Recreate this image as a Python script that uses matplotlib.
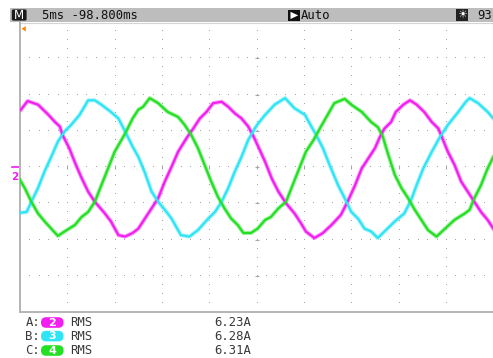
import matplotlib
matplotlib.use("Agg")
import matplotlib.pyplot as plt
from matplotlib.patches import FancyBboxPatch, Rectangle, Polygon
import numpy as np

# ---- scope settings ----
TIME_PER_DIV = 5.0      # ms per division
AMPS_PER_DIV = 5.0      # A per division
N_XDIV, N_YDIV = 10, 8

header_timebase = "5ms -98.800ms"
header_trigger = "Auto"
header_brightness = "93"

row_labels = ["A:", "B:", "C:"]
channel_ids = ["2", "3", "4"]
channel_colors = ["#f21ef2", "#2fe5f5", "#24e024"]
meas_kind = "RMS"
rms_values = [6.23, 6.28, 6.31]

# ---- captured traces: time (ms) / current (A) ----
t_ch2 = [0.1, 0.8, 1.9, 3.0, 3.7, 4.2, 4.5, 5.2, 5.9, 6.5, 7.2, 7.9, 8.9, 9.6, 10.4,
         11.1, 11.9, 12.5, 13.2, 13.9, 14.6, 15.3, 16.0, 16.7, 17.6, 18.3, 19.0, 19.7,
         20.4, 21.3, 22.0, 22.7, 23.4, 24.1, 24.6, 25.1, 25.9, 26.6, 27.3, 28.1, 29.0,
         29.7, 30.2, 31.1, 32.0, 32.9, 33.9, 34.6, 35.4, 36.1, 36.8, 37.5, 38.0, 38.5,
         39.2, 39.7, 40.5, 41.2, 41.9, 42.7, 43.5, 44.2, 44.7, 45.2, 45.9, 46.6, 47.3,
         48.0, 48.7, 49.4, 50.0]
i_ch2 = [7.9, 9.1, 8.6, 7.2, 6.2, 5.6, 4.4, 2.6, 0.3, -1.5, -3.4, -4.8, -6.3, -7.5, -9.4,
         -9.6, -9.1, -8.5, -7.1, -5.7, -4.3, -2.0, 0.0, 2.1, 4.0, 5.3, 6.7, 7.6,
         8.8, 9.0, 8.3, 7.4, 6.7, 5.6, 4.4, 3.0, 0.7, -1.6, -3.4, -5.0, -6.4,
         -7.8, -8.9, -9.8, -9.1, -8.0, -6.6, -4.8, -2.5, -0.2, 1.2, 2.6, 4.1, 5.3,
         6.2, 7.6, 8.6, 9.2, 8.6, 7.6, 6.2, 5.3, 3.7, 2.1, 0.3, -2.0, -3.4,
         -4.8, -6.2, -7.3, -8.5]

t_ch3 = [0.1, 0.7, 1.2, 1.9, 2.6, 3.3, 4.0, 4.7, 5.4, 6.3, 7.2, 7.9, 8.6, 9.6, 10.4,
         11.1, 11.9, 12.5, 13.2, 13.9, 14.6, 15.3, 16.0, 17.0, 17.9, 18.8, 19.9, 20.6,
         21.3, 22.0, 22.7, 23.4, 24.1, 24.8, 25.1, 25.9, 26.9, 28.0, 29.0, 30.1, 30.6,
         31.3, 32.0, 32.7, 33.6, 34.3, 35.0, 35.7, 36.4, 37.1, 37.8, 38.5, 39.6, 40.6,
         41.3, 41.9, 42.6, 43.5, 44.3, 45.2, 46.3, 47.1, 47.5, 48.4, 49.4, 50.0]
i_ch3 = [-6.3, -6.2, -4.8, -2.9, -0.6, 1.4, 3.5, 4.9, 5.8, 7.2, 9.2, 9.2, 8.6, 7.6, 6.7,
         4.9, 2.8, 1.4, -0.8, -3.4, -4.8, -5.9, -7.1, -9.4, -9.6, -8.7, -7.1, -6.2,
         -4.8, -2.9, -0.6, 1.4, 3.7, 5.3, 5.9, 7.2, 8.6, 9.5, 8.1, 7.2, 6.0,
         4.4, 2.6, 0.3, -2.5, -4.3, -6.2, -7.1, -8.5, -8.9, -9.8, -8.9, -7.5, -6.4,
         -4.6, -2.5, -0.2, 2.1, 4.0, 5.8, 7.6, 9.0, 9.5, 8.8, 7.6, 6.7]

t_ch4 = [0.0, 0.5, 1.2, 1.9, 2.6, 3.3, 4.0, 4.7, 5.8, 6.5, 7.2, 7.9, 8.6, 9.3, 10.0,
         11.1, 11.9, 12.5, 13.0, 13.7, 14.6, 15.6, 16.7, 17.4, 18.1, 18.8, 19.5, 20.2,
         20.9, 21.6, 22.3, 23.0, 23.6, 24.4, 25.1, 25.9, 26.5, 27.3, 28.1, 28.8, 29.5,
         30.2, 31.0, 31.8, 32.5, 33.2, 34.3, 35.0, 36.1, 37.1, 37.8, 38.3, 38.9, 39.6,
         40.3, 41.0, 41.7, 42.4, 43.1, 44.0, 44.9, 45.9, 47.0, 47.5, 48.0, 48.7, 49.4,
         50.0]
i_ch4 = [-1.8, -2.9, -4.8, -6.4, -7.5, -8.5, -9.5, -8.9, -8.0, -6.9, -6.2, -4.8, -2.5, -0.2, 2.1,
         4.6, 6.7, 7.9, 8.3, 9.5, 8.8, 7.6, 6.9, 5.8, 4.4, 2.6, 0.3, -2.0,
         -4.1, -5.7, -7.1, -8.0, -9.1, -9.1, -8.5, -7.3, -6.9, -5.7, -4.8, -2.5, -0.2,
         2.1, 3.7, 5.6, 7.2, 8.8, 9.4, 8.6, 7.6, 6.2, 5.5, 4.3, 1.7, -1.1,
         -2.9, -4.3, -5.9, -7.3, -8.7, -9.6, -8.5, -7.3, -6.4, -5.9, -4.3, -2.5, -0.2,
         1.4]

traces = [(t_ch2, i_ch2), (t_ch3, i_ch3), (t_ch4, i_ch4)]

W, H = 493, 358
fig = plt.figure(figsize=(W / 100, H / 100), dpi=100)
fig.patch.set_facecolor("white")

# full-figure overlay in pixel units for the screen chrome
ov = fig.add_axes([0, 0, 1, 1], zorder=0)
ov.set_xlim(0, W)
ov.set_ylim(H, 0)
ov.axis("off")

# waveform area
x0, y_top, y_bot = 20.0, 22.0, 312.0
div_px = 47.33
ax = fig.add_axes([x0 / W, (H - y_bot) / H, div_px * N_XDIV / W, (y_bot - y_top) / H], zorder=1)
ax.patch.set_alpha(0)
xmax = TIME_PER_DIV * N_XDIV
ymax = AMPS_PER_DIV * N_YDIV / 2
ax.set_xlim(0, xmax)
ax.set_ylim(-ymax, ymax)
ax.set_xticks([])
ax.set_yticks([])
for side in ("top", "right"):
    ax.spines[side].set_visible(False)
for side in ("left", "bottom"):
    ax.spines[side].set_color("#b4b4b4")
    ax.spines[side].set_linewidth(1.4)

# dotted graticule
dot_c = "#a4a4a4"
minor_x = np.arange(0, xmax + 1e-6, TIME_PER_DIV / 5)
minor_y = np.arange(-ymax, ymax + 1e-6, AMPS_PER_DIV / 4)
for yv in np.arange(-ymax + AMPS_PER_DIV, ymax - 1e-6, AMPS_PER_DIV):
    ax.plot(minor_x, np.full_like(minor_x, yv), ",", color=dot_c, zorder=1)
for xv in np.arange(TIME_PER_DIV, xmax - 1e-6, TIME_PER_DIV):
    ax.plot(np.full_like(minor_y, xv), minor_y, ",", color=dot_c, zorder=1)
# centre cross tick marks
major_x = np.arange(TIME_PER_DIV, xmax - 1e-6, TIME_PER_DIV)
major_y = np.arange(-ymax + AMPS_PER_DIV, ymax - 1e-6, AMPS_PER_DIV)
ax.plot(major_x, np.zeros_like(major_x), "|", color="#a8a8a8", ms=3, mew=0.8, zorder=1)
ax.plot(np.full_like(major_y, xmax / 2), major_y, "_", color="#a8a8a8", ms=3, mew=0.8, zorder=1)

# traces: soft halo plus core line
for (tt, ii), col in zip(traces, channel_colors):
    ax.plot(tt, ii, color=col, lw=3.0, alpha=0.4, solid_joinstyle="round", zorder=3)
    ax.plot(tt, ii, color=col, lw=1.6, solid_joinstyle="round", zorder=4)

mono = "DejaVu Sans Mono"
fs = 8.8

# header bar
ov.add_patch(Rectangle((10, 8), W - 10, 14, color="#bdbdbd", lw=0))
ov.plot([20, W], [22.6, 22.6], color="#d4d4d4", lw=0.8)
ov.add_patch(FancyBboxPatch((11.8, 9.4), 14.8, 11.2, boxstyle="round,pad=0,rounding_size=1.5",
                            fc="#1a1a1a", ec="none"))
ov.text(19.2, 15.2, "M", color="white", fontsize=8.5, ha="center", va="center", family="DejaVu Sans")
ov.text(42.5, 15.2, header_timebase, color="#111111", fontsize=fs, family=mono, ha="left", va="center")
ov.add_patch(Rectangle((288, 9.8), 12, 11.2, color="#111111", lw=0))
ov.add_patch(Polygon([(290.5, 11.8), (290.5, 19.0), (298.2, 15.4)], closed=True, fc="white", ec="none"))
ov.text(301.0, 15.2, header_trigger, color="#111111", fontsize=fs, family=mono, ha="left", va="center")
ov.add_patch(Rectangle((456, 9.4), 12.3, 11.8, color="#222222", lw=0))
ov.text(462.2, 15.4, "\u2600", color="white", fontsize=8, ha="center", va="center", family="DejaVu Sans")
ov.text(477.5, 15.2, header_brightness, color="#111111", fontsize=fs, family=mono, ha="left", va="center")

# trigger position marker
ov.add_patch(Polygon([(21.5, 28.8), (25.8, 26.0), (25.8, 31.6)], closed=True, fc="#ff8a00", ec="none"))

# channel 2 ground marker
ov.plot([12, 18.5], [167.3, 167.3], color=channel_colors[0], lw=1.2)
ov.text(15.2, 177.5, channel_ids[0], color=channel_colors[0], fontsize=7.5, fontweight="bold",
        ha="center", va="center", family="DejaVu Sans")

# measurement readouts
row_y = [322.4, 336.0, 350.4]
for lab, cid, col, v, yy in zip(row_labels, channel_ids, channel_colors, rms_values, row_y):
    ov.text(25.5, yy, lab, color="#3a3a3a", fontsize=fs, family=mono, ha="left", va="center")
    ov.add_patch(FancyBboxPatch((41, yy - 5.2), 22.5, 10.6, boxstyle="round,pad=0,rounding_size=5.2",
                                fc=col, ec="none"))
    ov.text(52.2, yy + 0.2, cid, color="white", fontsize=8, fontweight="bold",
            ha="center", va="center", family="DejaVu Sans")
    ov.text(70.5, yy, meas_kind, color="#3a3a3a", fontsize=fs, family=mono, ha="left", va="center")
    ov.text(214.5, yy, f"{v:.2f}A", color="#3a3a3a", fontsize=fs, family=mono, ha="left", va="center")

fig.savefig("out.png", dpi=100, facecolor="white")
